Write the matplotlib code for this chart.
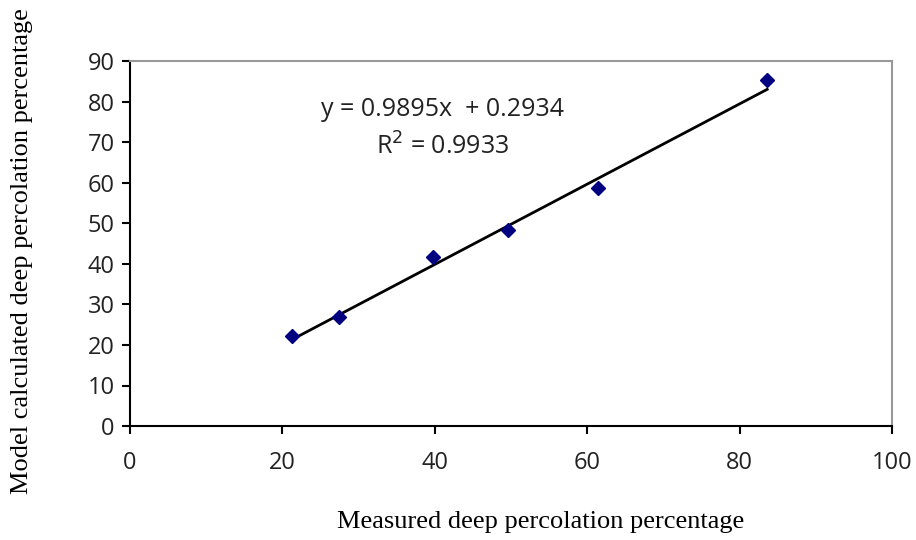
import numpy as np
import matplotlib.pyplot as plt

# Measured vs model-calculated deep percolation (%)
measured = [21.2, 27.4, 39.8, 49.6, 61.4, 83.6]
calculated = [22.1, 27.0, 41.7, 48.3, 58.7, 85.2]
slope = 0.9895
intercept = 0.2934

fig = plt.figure(figsize=(9.16, 5.4), dpi=100)
ax = fig.add_axes([0.142, 0.211, 0.832, 0.676])

# trendline over the data range
xs = np.array([min(measured), max(measured)])
ax.plot(xs, slope * xs + intercept, color='black', linewidth=2)
ax.plot(measured, calculated, linestyle='none', marker='D', markersize=7.5,
        color='#000080', zorder=3)

ax.set_xlim(0, 100)
ax.set_ylim(0, 90)
ax.set_xticks(range(0, 101, 20))
ax.set_yticks(range(0, 91, 10))

for side in ['top', 'right']:
    ax.spines[side].set_color('#999999')
    ax.spines[side].set_linewidth(1.5)
for side in ['left', 'bottom']:
    ax.spines[side].set_linewidth(1.5)
ax.tick_params(direction='out', length=6, width=1.5, labelsize=17, pad=5)
ax.tick_params(axis='x', pad=12)
for lbl in ax.get_xticklabels() + ax.get_yticklabels():
    lbl.set_family('Open Sans')
    lbl.set_color('#222222')

ax.text(0.41, 0.866, 'y = 0.9895x  + 0.2934', transform=ax.transAxes,
        ha='center', va='center', fontsize=18, family='Open Sans', color='#222222')
ax.text(0.41, 0.764, 'R$^2$ = 0.9933', transform=ax.transAxes,
        ha='center', va='center', fontsize=18, family='Open Sans', color='#222222')

fig.text(0.59, 0.033, 'Measured deep percolation percentage', ha='center', va='center',
         fontsize=19, family='Liberation Serif')
fig.text(0.024, 0.535, 'Model calculated deep percolation percentage', ha='center',
         va='center', rotation=90, fontsize=19, family='Liberation Serif')

fig.savefig('out.png', dpi=100)
